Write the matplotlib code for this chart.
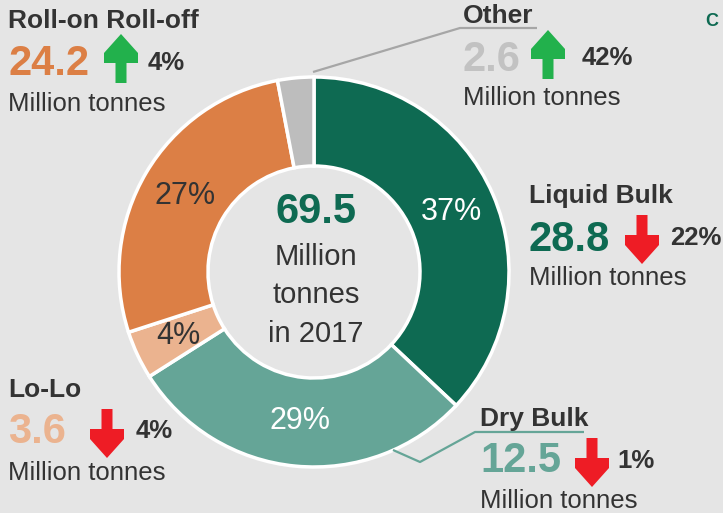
import matplotlib
matplotlib.use("Agg")
import matplotlib.pyplot as plt
from matplotlib.patches import Polygon

# Port freight by cargo type, 2017
categories = ["Liquid Bulk", "Dry Bulk", "Lo-Lo", "Roll-on Roll-off", "Other"]
share_pct = [37, 29, 4, 27, 3]
tonnes = [28.8, 12.5, 3.6, 24.2, 2.6]
change_pct = [22, 1, 4, 4, 42]
change_up = [False, False, False, True, True]
total_tonnes = 69.5
year = 2017

colors = ["#0e6a52", "#65a597", "#ebb38f", "#dc7f45", "#bdbdbd"]
value_colors = ["#0e6a52", "#65a597", "#ebb38f", "#dc7f45", "#c2c2c2"]
pct_text_colors = ["white", "white", "#333333", "#333333", "#333333"]
BG = "#e5e5e5"
DARK = "#333333"
FONT = "Liberation Sans"

W, H = 723, 513
fig = plt.figure(figsize=(W / 100, H / 100), dpi=100, facecolor=BG)
ax = fig.add_axes([0, 0, 1, 1])
ax.set_facecolor(BG)

# donut, drawn in pixel units on an inverted y axis
cx, cy, r_out, r_in = 314, 272, 195, 106
wedges, _, autotexts = ax.pie(
    share_pct, colors=colors, startangle=-90, counterclock=True,
    center=(cx, cy), radius=r_out,
    wedgeprops=dict(width=r_out - r_in, edgecolor="white", linewidth=2.5),
    autopct=lambda p: f"{p:.0f}%" if p > 3.5 else "",
    pctdistance=150 / r_out,
    textprops=dict(fontsize=22, family=FONT),
)
for t, c in zip(autotexts, pct_text_colors):
    t.set_color(c)

ax.set_xlim(0, W)
ax.set_ylim(H, 0)
ax.set_aspect("auto")
ax.axis("off")

# centre total
ax.text(316, 223, f"{total_tonnes}", ha="center", va="baseline", fontsize=30,
        fontweight="bold", color=colors[0], family=FONT)
for txt, yb in [("Million", 265), ("tonnes", 303), (f"in {year}", 342)]:
    ax.text(316, yb, txt, ha="center", va="baseline", fontsize=21,
            color=DARK, family=FONT)


def arrow(x, tip_y, up, color):
    # block arrow, 49 px long, tip at (x, tip_y)
    s = -1 if up else 1
    L, head, tri, hw, sw = 49, 29, 19, 17, 5.5
    pts = [
        (x, tip_y),
        (x + hw, tip_y - s * tri),
        (x + hw, tip_y - s * head),
        (x + sw, tip_y - s * head),
        (x + sw, tip_y - s * L),
        (x - sw, tip_y - s * L),
        (x - sw, tip_y - s * head),
        (x - hw, tip_y - s * head),
        (x - hw, tip_y - s * tri),
    ]
    ax.add_patch(Polygon(pts, closed=True, facecolor=color, edgecolor="none"))


# label block layout: (x, title baseline, value baseline, arrow x, arrow tip y,
#                      change x, change baseline, unit baseline)
blocks = {
    "Liquid Bulk": (529, 203, 251, 642, 264, 670, 245, 285),
    "Dry Bulk": (480, 426, 472, 592, 487, 617, 468, 508),
    "Lo-Lo": (8, 397, 443, 107, 458, 136, 438, 480),
    "Roll-on Roll-off": (8, 28, 75, 121, 34, 148, 70, 111),
    "Other": (463, 23, 71, 548, 30, 582, 65, 105),
}

for i, name in enumerate(categories):
    x, yt, yv, ax_x, ax_y, xc, yc, yu = blocks[name]
    ax.text(x, yt, name, ha="left", va="baseline", fontsize=19,
            fontweight="bold", color=DARK, family=FONT)
    ax.text(x, yv, f"{tonnes[i]}", ha="left", va="baseline", fontsize=30,
            fontweight="bold", color=value_colors[i], family=FONT)
    arrow(ax_x, ax_y, change_up[i], "#22b14c" if change_up[i] else "#ee1c25")
    ax.text(xc, yc, f"{change_pct[i]}%", ha="left", va="baseline", fontsize=18.5,
            fontweight="bold", color=DARK, family=FONT)
    ax.text(x, yu, "Million tonnes", ha="left", va="baseline", fontsize=18.5,
            color=DARK, family=FONT)

# leader lines
ax.plot([313, 460, 537], [72, 28, 28], color="#a6a6a6", lw=1.6,
        solid_capstyle="butt")
ax.plot([393, 420, 475, 584], [450, 462, 432, 432], color=colors[1], lw=1.6,
        solid_capstyle="butt")

ax.text(705, 26, "C", ha="left", va="baseline", fontsize=13,
        fontweight="bold", color=colors[0], family=FONT)

fig.savefig("out.png", dpi=100, facecolor=BG)
